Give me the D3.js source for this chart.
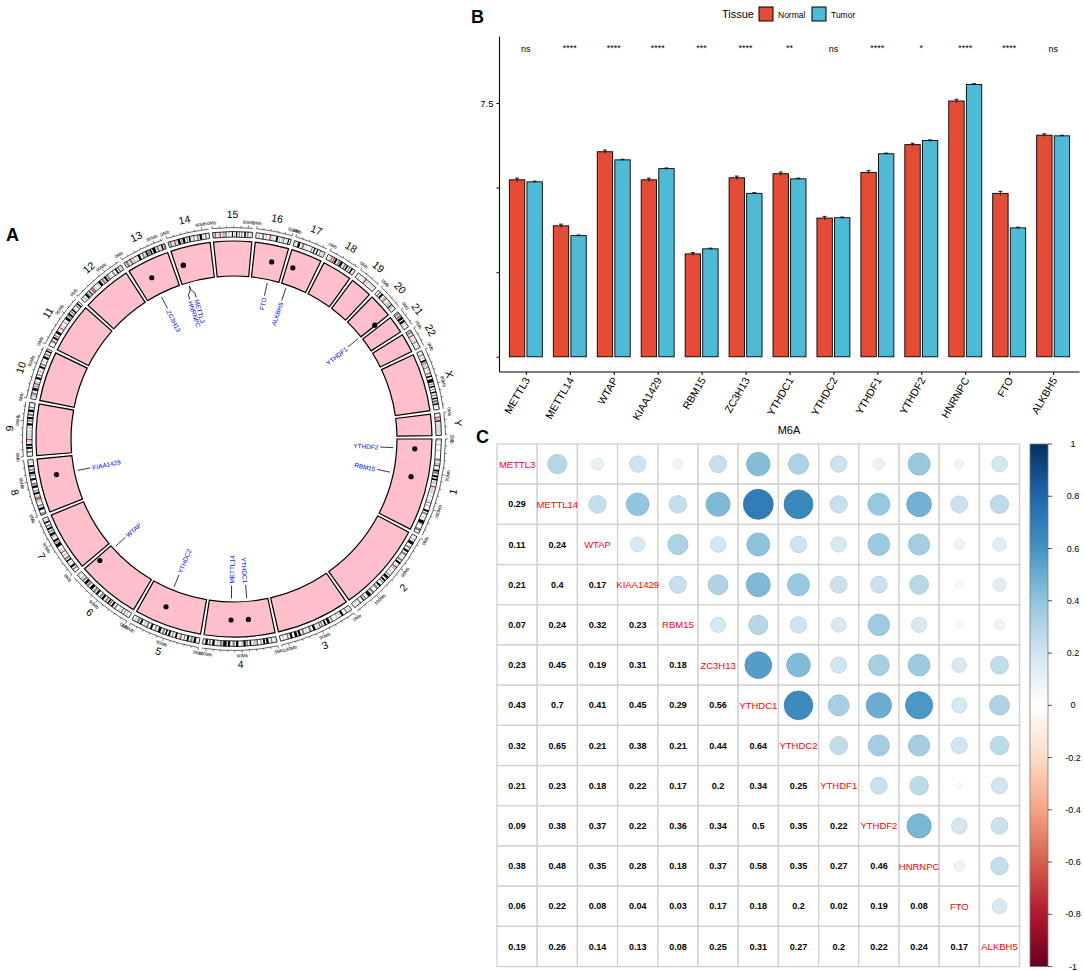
<!DOCTYPE html>
<html>
<head>
<meta charset="utf-8">
<title>m6A regulators</title>
<script src="https://cdn.jsdelivr.net/npm/d3@7"></script>
<style>
  body { margin: 0; background: #fff; }
  text { font-family: "Liberation Sans", Arial, sans-serif; }
</style>
</head>
<body>
<svg width="1084" height="971"></svg>
<script>
// ---------------- data ----------------
var genes = ["METTL3", "METTL14", "WTAP", "KIAA1429", "RBM15", "ZC3H13", "YTHDC1",
             "YTHDC2", "YTHDF1", "YTHDF2", "HNRNPC", "FTO", "ALKBH5"];

// panel B : mean expression per tissue
var normalExpr = [5.23, 3.87, 6.06, 5.23, 3.04, 5.29, 5.41, 4.10, 5.45, 6.27, 7.56, 4.83, 6.55];
var tumorExpr  = [5.17, 3.58, 5.82, 5.56, 3.19, 4.83, 5.26, 4.11, 6.00, 6.39, 8.05, 3.81, 6.53];
var normalSe   = [0.05, 0.05, 0.05, 0.05, 0.04, 0.05, 0.05, 0.05, 0.05, 0.04, 0.05, 0.06, 0.04];
var tumorSe    = [0.02, 0.02, 0.02, 0.02, 0.02, 0.02, 0.02, 0.02, 0.02, 0.02, 0.02, 0.02, 0.02];
var signif     = ["ns", "****", "****", "****", "***", "****", "**", "ns", "****", "*", "****", "****", "ns"];
var yTicks     = [0, 2.5, 5, 7.5];
var yTickLabels = ["", "", "", "7.5"];
var tissues    = ["Normal", "Tumor"];

// panel A : genome (hg38, Mb)
var chroms = ["1","2","3","4","5","6","7","8","9","10","11","12","13","14","15","16","17","18","19","20","21","22","X","Y"];
var chromLen = [248.96, 242.19, 198.30, 190.21, 181.54, 170.81, 159.35, 145.14, 138.39, 133.80, 135.09, 133.28,
                114.36, 107.04, 101.99, 90.34, 83.26, 80.37, 58.62, 64.44, 46.71, 50.82, 156.04, 57.23];
var centromere = [123.4, 93.9, 90.9, 50.0, 48.8, 59.8, 60.1, 45.2, 43.0, 39.8, 53.4, 35.5,
                  17.7, 17.2, 19.0, 36.8, 25.1, 18.5, 26.2, 28.1, 12.0, 15.0, 60.6, 10.4];
var axisMajorMb = 90, axisMinorMb = 18;
// [start, end, stain] stain: 1 gpos100, 2 gpos75, 3 gpos50, 4 gvar, 5 stalk
var cytoBands = [
  [[3,6,3],[13,16,3],[28,31,3],[50,56,2],[60,68,3],[68,70,1],[79,84,1],[85,90,2],[94,99,1],[102,107,1],[110,116,3],[125,143,4],[147,150,3],[160,163,3],[165,168,2],[172,176,3],[185,190,1],[193,198,2],[204,207,3],[214,223,1],[224,227,3],[236,243,2]],
  [[8,12,3],[16,24,1],[31,36,2],[41,47,1],[51,57,2],[61,64,3],[69,74,2],[78,83,1],[96,102,3],[110,113,3],[119,122,2],[125,132,1],[136,141,1],[143,147,2],[154,159,1],[163,169,2],[178,184,2],[188,197,1],[204,208,2],[211,214,1],[221,225,2],[229,232,3]],
  [[4,8,3],[12,16,2],[24,30,1],[33,36,3],[40,44,3],[55,59,2],[63,70,1],[74,79,1],[83,87,2],[96,99,3],[104,110,1],[115,121,2],[126,129,3],[134,139,2],[144,150,1],[153,160,1],[166,172,1],[176,180,2],[188,192,3]],
  [[2,5,3],[11,15,2],[21,27,1],[30,35,1],[39,42,2],[52,58,3],[59,62,3],[66,70,1],[74,78,2],[80,86,1],[88,92,3],[99,105,1],[108,114,2],[120,126,1],[129,138,1],[140,147,2],[150,155,3],[160,166,1],[170,175,2],[178,184,1]],
  [[9,15,1],[18,24,2],[28,33,1],[38,41,2],[51,54,3],[59,64,1],[69,72,2],[77,82,1],[86,90,1],[93,98,2],[103,110,1],[115,119,2],[126,131,1],[137,142,2],[145,150,3],[155,160,1],[163,169,2],[172,176,3]],
  [[7,11,3],[15,18,2],[22,26,2],[30,33,3],[41,45,2],[50,55,1],[63,67,1],[70,75,2],[80,86,1],[88,93,2],[99,105,1],[108,114,2],[118,126,1],[130,136,2],[138,145,1],[148,153,2],[155,160,3],[165,168,3]],
  [[7,11,2],[14,20,1],[25,28,3],[32,36,1],[39,44,2],[50,54,3],[66,69,3],[77,86,1],[88,91,2],[93,98,1],[104,108,3],[110,117,1],[120,124,2],[127,132,1],[135,140,2],[145,149,1],[152,155,3]],
  [[2,6,2],[13,19,1],[23,27,2],[33,36,3],[39,43,2],[47,52,3],[55,60,1],[63,66,2],[72,78,1],[80,85,2],[92,97,1],[103,106,2],[108,114,1],[117,122,2],[126,131,1],[136,139,3]],
  [[9,14,2],[19,24,1],[27,32,1],[36,39,3],[45,60,4],[61,68,4],[71,75,3],[79,85,1],[89,93,2],[95,101,1],[104,110,2],[114,120,1],[124,128,2],[134,136,3]],
  [[6,12,3],[12,17,2],[22,29,1],[32,35,2],[43,47,3],[52,58,1],[62,66,2],[70,75,3],[82,87,1],[90,94,2],[99,103,3],[108,114,1],[118,122,2],[126,130,1]],
  [[11,17,2],[21,26,1],[28,32,2],[36,43,1],[46,48,3],[59,62,3],[70,72,2],[79,86,1],[88,92,2],[93,98,1],[101,105,2],[107,111,1],[112,115,3],[121,125,2],[127,131,1]],
  [[5,10,3],[14,20,1],[21,24,2],[27,30,1],[38,43,2],[45,48,3],[55,57,3],[60,67,1],[70,76,2],[79,85,1],[87,92,2],[94,97,3],[104,108,2],[114,118,1],[121,125,2],[128,131,3]],
  [[0,4.5,4],[4.5,10,5],[10,16,4],[19,23,3],[25,27,2],[32,35,3],[39,45,1],[50,55,2],[57,60,3],[61,65,1],[66,72,2],[73,77,1],[80,88,1],[92,97,2],[99,102,3],[104,108,1],[110,113,2]],
  [[0,3.6,4],[3.6,8,5],[8,16,4],[20,23,3],[25,31,1],[33,36,2],[38,44,1],[48,51,2],[54,58,1],[61,63,3],[66,69,2],[75,79,2],[82,88,1],[91,93,3],[96,100,2]],
  [[0,4.2,4],[4.2,8.5,5],[8.5,17,4],[23,25,3],[27,30,2],[33,35,1],[40,43,3],[49,52,1],[55,58,3],[60,63,1],[67,70,2],[73,76,2],[81,85,1],[88,92,2],[96,99,3]],
  [[6,10,3],[16,21,2],[24,28,3],[38,47,4],[52,57,1],[60,63,3],[66,70,3],[71,74,2],[78,80,3],[83,86,1]],
  [[3,6,3],[10,16,1],[21,24,3],[31,34,3],[39,41,3],[47,50,2],[54,57,1],[62,65,1],[70,73,2],[76,79,3]],
  [[7,10,3],[11,15,2],[22,27,1],[31,36,2],[37,43,1],[48,53,2],[55,59,1],[63,66,2],[69,73,1],[76,78,3]],
  [[7,9,3],[13,14,3],[20,24,4],[28,31,4],[32,35,3],[38,39,3],[43,45,3],[48,51,3],[54,56,3]],
  [[5,9,2],[12,17,1],[21,25,3],[31,33,3],[37,41,3],[43,45,2],[48,51,1],[54,56,2],[60,62,3]],
  [[0,3,4],[3,7,5],[7,10.5,4],[13,16,3],[16,22,1],[25,31,1],[33,35,3],[38,40,3]],
  [[0,4,4],[4,8.5,5],[8.5,13,4],[22,24,3],[27,30,3],[32,35,2],[36,38,3],[44,46,3]],
  [[4,6,3],[9,12,2],[16,20,3],[24,29,1],[31,35,2],[37,42,3],[44,47,2],[50,53,3],[67,71,1],[76,85,1],[88,91,2],[94,98,1],[102,105,2],[109,113,1],[117,121,2],[125,129,1],[131,138,2],[140,144,1],[146,148,3]],
  [[2.8,5,3],[12,14,3],[15,17,2],[19,22,1],[24,26,3],[26.6,57.2,4]]
];
var geneChrom = ["14", "4", "6", "8", "1", "13", "4", "5", "20", "1", "14", "16", "17"];
var genePos   = [21.5, 118.7, 159.7, 94.5, 110.3, 45.9, 68.3, 113.5, 63.2, 28.7, 21.2, 53.7, 18.2];

// panel C : correlation (lower triangle, row by row)
var corLower = [
  [],
  [0.29],
  [0.11, 0.24],
  [0.21, 0.4, 0.17],
  [0.07, 0.24, 0.32, 0.23],
  [0.23, 0.45, 0.19, 0.31, 0.18],
  [0.43, 0.7, 0.41, 0.45, 0.29, 0.56],
  [0.32, 0.65, 0.21, 0.38, 0.21, 0.44, 0.64],
  [0.21, 0.23, 0.18, 0.22, 0.17, 0.2, 0.34, 0.25],
  [0.09, 0.38, 0.37, 0.22, 0.36, 0.34, 0.5, 0.35, 0.22],
  [0.38, 0.48, 0.35, 0.28, 0.18, 0.37, 0.58, 0.35, 0.27, 0.46],
  [0.06, 0.22, 0.08, 0.04, 0.03, 0.17, 0.18, 0.2, 0.02, 0.19, 0.08],
  [0.19, 0.26, 0.14, 0.13, 0.08, 0.25, 0.31, 0.27, 0.2, 0.22, 0.24, 0.17]
];
var colorbarTicks = [1, 0.8, 0.6, 0.4, 0.2, 0, -0.2, -0.4, -0.6, -0.8, -1];

// ---------------- drawing ----------------
var svg = d3.select("svg");

// panel letters
svg.append("text").attr("x", 6).attr("y", 241).text("A")
  .attr("font-size", 18).attr("font-weight", "bold");
svg.append("text").attr("x", 471).attr("y", 23).text("B")
  .attr("font-size", 18).attr("font-weight", "bold");
svg.append("text").attr("x", 476).attr("y", 443).text("C")
  .attr("font-size", 18).attr("font-weight", "bold");

// ===== Panel A : circos =====
var cx = 234, cy = 439, gapDeg = 1;
var degPerMb = (360 - gapDeg * chroms.length) / d3.sum(chromLen);
var chromStart = [], acc = 0;
chromLen.forEach(function(l) { chromStart.push(acc); acc += l * degPerMb + gapDeg; });
var angle = chroms.map(function(c, i) {
  return d3.scaleLinear().domain([0, chromLen[i]]).range([chromStart[i], chromStart[i] + chromLen[i] * degPerMb]);
});
function rad(deg) { return (deg + 90) * Math.PI / 180; }       // d3.arc angle
function pt(r, deg) { var a = deg * Math.PI / 180; return [r * Math.cos(a), r * Math.sin(a)]; }
function tangentRot(deg) {
  var d = ((deg % 360) + 360) % 360;
  return (d > 0 && d < 180) ? d - 90 : d + 90;
}
var arc = d3.arc();
function ring(r0, r1, a0, a1) {
  return arc({innerRadius: r0, outerRadius: r1, startAngle: rad(a0), endAngle: rad(a1)});
}
var stainCol = {1: "#000000", 2: "#828282", 3: "#C8C8C8", 4: "#DCDCDC", 5: "#647FA4"};

var gA = svg.append("g").attr("transform", "translate(" + cx + "," + cy + ")");

chroms.forEach(function(c, i) {
  var s = angle[i], L = chromLen[i];
  var g = gA.append("g").attr("class", "chr");

  // pink data track
  g.append("path").attr("d", ring(163, 198, s(0), s(L)))
    .attr("fill", "#FFC0CB").attr("stroke", "#000").attr("stroke-width", 1.2);

  // ideogram
  g.append("path").attr("d", ring(202, 207.5, s(0), s(L))).attr("fill", "#fff");
  g.selectAll(".band").data(cytoBands[i]).enter().append("path")
    .attr("d", function(b) { return ring(202, 207.5, s(b[0]), s(Math.min(b[1], L))); })
    .attr("fill", function(b) { return stainCol[b[2]]; });
  g.append("path").attr("d", ring(202, 207.5, s(centromere[i] - 1.6), s(centromere[i] + 1.6)))
    .attr("fill", "#D92F27");
  g.append("path").attr("d", ring(202, 207.5, s(0), s(L)))
    .attr("fill", "none").attr("stroke", "#000").attr("stroke-width", 0.8);

  // genomic axis
  var p = d3.path();
  p.arc(0, 0, 211.5, s(0) * Math.PI / 180, s(L) * Math.PI / 180);
  g.append("path").attr("d", p.toString()).attr("fill", "none")
    .attr("stroke", "#000").attr("stroke-width", 0.6);
  d3.range(0, L, axisMinorMb).forEach(function(v) {
    var major = v % axisMajorMb === 0;
    var a = pt(211.5, s(v)), b = pt(major ? 214.3 : 213.2, s(v));
    g.append("line").attr("x1", a[0]).attr("y1", a[1]).attr("x2", b[0]).attr("y2", b[1])
      .attr("stroke", "#000").attr("stroke-width", 0.5);
    if (major) {
      var q = pt(217, s(v));
      g.append("text").attr("transform", "translate(" + q[0] + "," + q[1] + ") rotate(" + tangentRot(s(v)) + ")")
        .attr("text-anchor", "middle").attr("dominant-baseline", "central")
        .attr("font-size", 4.6).text(v + "Mb");
    }
  });

  // chromosome name
  var m = s(L / 2), q = pt(225, m);
  g.append("text").attr("transform", "translate(" + q[0] + "," + q[1] + ") rotate(" + tangentRot(m) + ")")
    .attr("text-anchor", "middle").attr("dominant-baseline", "central")
    .attr("font-size", 10.5).text(c);
});

// gene points and labels
var labs = genes.map(function(g, i) {
  var ci = chroms.indexOf(geneChrom[i]);
  return {gene: g, theta: angle[ci](genePos[i])};
}).sort(function(a, b) { return a.theta - b.theta; });
labs.forEach(function(d) { d.phi = d.theta; });
var minSep = 2.6;
for (var it = 0; it < 20; it++) {
  for (var i = 0; i < labs.length - 1; i++) {
    if (labs[i + 1].phi - labs[i].phi < minSep) {
      var mid = (labs[i + 1].phi + labs[i].phi) / 2;
      labs[i].phi = mid - minSep / 2;
      labs[i + 1].phi = mid + minSep / 2;
    }
  }
}
gA.selectAll(".dot").data(labs).enter().append("circle")
  .attr("cx", function(d) { return pt(181, d.theta)[0]; })
  .attr("cy", function(d) { return pt(181, d.theta)[1]; })
  .attr("r", 2.6).attr("fill", "#000");
gA.selectAll(".conn").data(labs).enter().append("path")
  .attr("d", function(d) {
    return "M" + pt(159.5, d.theta) + "L" + pt(156, d.theta) + "L" + pt(151, d.phi) + "L" + pt(146.5, d.phi);
  })
  .attr("fill", "none").attr("stroke", "#000").attr("stroke-width", 0.8);
gA.selectAll(".glab").data(labs).enter().append("text")
  .attr("transform", function(d) {
    var q = pt(144.5, d.phi), right = Math.cos(d.phi * Math.PI / 180) >= 0;
    return "translate(" + q[0] + "," + q[1] + ") rotate(" + (right ? d.phi : d.phi + 180) + ")";
  })
  .attr("text-anchor", function(d) { return Math.cos(d.phi * Math.PI / 180) >= 0 ? "end" : "start"; })
  .attr("dominant-baseline", "central")
  .attr("font-size", 6.4).attr("fill", "#0000FF")
  .text(function(d) { return d.gene; });

// ===== Panel B : bar chart =====
var tissueCol = {Normal: "#E64B35", Tumor: "#4DBBD5"};
var bx = d3.scaleLinear().domain([0.4, genes.length + 0.6]).range([499.5, 1079.5]);
var by = d3.scaleLinear().domain([-0.45, 9.46]).range([372, 36.7]);
var gB = svg.append("g");
var barW = 0.35;

var series = [
  {name: "Normal", vals: normalExpr, se: normalSe, off: -0.2},
  {name: "Tumor", vals: tumorExpr, se: tumorSe, off: 0.2}
];
series.forEach(function(sr) {
  var g = gB.append("g");
  g.selectAll("rect").data(sr.vals).enter().append("rect")
    .attr("x", function(v, i) { return bx(i + 1 + sr.off - barW / 2); })
    .attr("width", bx(barW) - bx(0))
    .attr("y", function(v) { return by(v); })
    .attr("height", function(v) { return by(0) - by(v); })
    .attr("fill", tissueCol[sr.name]).attr("stroke", "#000").attr("stroke-width", 0.9);
  g.selectAll(".err").data(sr.vals).enter().append("path")
    .attr("d", function(v, i) {
      var x = bx(i + 1 + sr.off), w = 2;
      var y1 = by(v + sr.se[i]), y0 = by(v - sr.se[i]);
      return "M" + x + "," + y0 + "V" + y1 + "M" + (x - w) + "," + y1 + "H" + (x + w);
    })
    .attr("stroke", "#000").attr("stroke-width", 0.9).attr("fill", "none");
});

gB.selectAll(".sig").data(signif).enter().append("text")
  .attr("x", function(d, i) { return bx(i + 1); })
  .attr("y", function(d) { return d === "ns" ? 52 : 51; })
  .attr("text-anchor", "middle").attr("font-size", 9).text(function(d) { return d; });

var yAxis = d3.axisLeft(by).tickValues(yTicks).tickSize(3)
  .tickFormat(function(d, i) { return yTickLabels[i]; });
gB.append("g").attr("transform", "translate(499.5,0)").call(yAxis)
  .call(function(g) {
    g.select(".domain").attr("d", "M0," + by.range()[1] + "V" + by.range()[0]).attr("stroke-width", 1.1);
    g.selectAll("text").attr("font-size", 9.5).attr("fill", "#000");
  });
gB.append("line").attr("x1", 499.5).attr("x2", 1079.5).attr("y1", 372).attr("y2", 372)
  .attr("stroke", "#000").attr("stroke-width", 1.1);
var xAxis = d3.axisBottom(bx).tickValues(d3.range(1, genes.length + 1)).tickSize(3)
  .tickFormat(function(d) { return genes[d - 1]; });
gB.append("g").attr("transform", "translate(0,372)").call(xAxis)
  .call(function(g) {
    g.select(".domain").remove();
    g.selectAll("text").attr("font-size", 10.5).attr("fill", "#000")
      .attr("text-anchor", "end").attr("dy", null).attr("y", null)
      .attr("transform", "translate(4,8) rotate(-60)");
  });
gB.append("text").attr("x", 789).attr("y", 434).attr("text-anchor", "middle")
  .attr("font-size", 11).text("M6A");

// legend
var lg = gB.append("g");
lg.append("text").attr("x", 722).attr("y", 18).attr("font-size", 11).text("Tissue");
var legX = [759, 812];
tissues.forEach(function(t, i) {
  lg.append("rect").attr("x", legX[i]).attr("y", 7).attr("width", 14).attr("height", 14)
    .attr("fill", tissueCol[t]).attr("stroke", "#000").attr("stroke-width", 1);
  lg.append("text").attr("x", legX[i] + 19).attr("y", 17.5).attr("font-size", 8.5).text(t);
});

// ===== Panel C : correlation matrix =====
var corColors = ["#67001F", "#B2182B", "#D6604D", "#F4A582", "#FDDBC7", "#FFFFFF",
                 "#D1E5F0", "#92C5DE", "#4393C3", "#2166AC", "#053061"];
var corScale = d3.scaleLinear().domain(d3.range(11).map(function(i) { return -1 + i * 0.2; })).range(corColors);
var n = genes.length, cell = 40.2, gx0 = 497, gy0 = 444;
var cxs = d3.scaleBand().domain(genes).range([gx0, gx0 + n * cell]);
var cys = d3.scaleBand().domain(genes).range([gy0, gy0 + n * cell]);
function cor(i, j) { return i > j ? corLower[i][j] : corLower[j][i]; }
var cells = [];
genes.forEach(function(r, i) { genes.forEach(function(c, j) { cells.push({i: i, j: j}); }); });

var gC = svg.append("g");
gC.selectAll(".cell").data(cells).enter().append("rect")
  .attr("x", function(d) { return cxs(genes[d.j]); })
  .attr("y", function(d) { return cys(genes[d.i]); })
  .attr("width", cxs.bandwidth()).attr("height", cys.bandwidth())
  .attr("fill", "#fff").attr("stroke", "#D0D0D0").attr("stroke-width", 1.3);

gC.selectAll(".circ").data(cells.filter(function(d) { return d.j > d.i; })).enter().append("circle")
  .attr("cx", function(d) { return cxs(genes[d.j]) + cell / 2; })
  .attr("cy", function(d) { return cys(genes[d.i]) + cell / 2; })
  .attr("r", function(d) { return Math.sqrt(Math.abs(cor(d.i, d.j))) * 0.445 * cell; })
  .attr("fill", function(d) { return corScale(cor(d.i, d.j)); })
  .attr("stroke", function(d) { return d3.color(corScale(cor(d.i, d.j))).darker(0.25); })
  .attr("stroke-width", 0.8);

gC.selectAll(".num").data(cells.filter(function(d) { return d.j < d.i; })).enter().append("text")
  .attr("x", function(d) { return cxs(genes[d.j]) + cell / 2; })
  .attr("y", function(d) { return cys(genes[d.i]) + cell / 2; })
  .attr("text-anchor", "middle").attr("dominant-baseline", "central")
  .attr("font-size", 9).attr("font-weight", "bold")
  .text(function(d) { return String(cor(d.i, d.j)); });

gC.selectAll(".diag").data(genes).enter().append("text")
  .attr("x", function(g) { return cxs(g) + cell / 2; })
  .attr("y", function(g) { return cys(g) + cell / 2; })
  .attr("text-anchor", "middle").attr("dominant-baseline", "central")
  .attr("font-size", 9.5).attr("fill", "#FF0000").text(function(g) { return g; });

// colour bar
var defs = svg.append("defs");
var grad = defs.append("linearGradient").attr("id", "corGrad")
  .attr("x1", 0).attr("y1", 1).attr("x2", 0).attr("y2", 0);
corColors.forEach(function(c, i) {
  grad.append("stop").attr("offset", (i / (corColors.length - 1) * 100) + "%").attr("stop-color", c);
});
var cbY = d3.scaleLinear().domain([-1, 1]).range([gy0 + n * cell, gy0]);
gC.append("rect").attr("x", 1030).attr("y", cbY(1)).attr("width", 18).attr("height", cbY(-1) - cbY(1))
  .attr("fill", "url(#corGrad)").attr("stroke", "#777").attr("stroke-width", 0.8);
gC.selectAll(".cbt").data(colorbarTicks).enter().append("line")
  .attr("x1", 1048).attr("x2", 1052)
  .attr("y1", function(t) { return cbY(t); }).attr("y2", function(t) { return cbY(t); })
  .attr("stroke", "#000").attr("stroke-width", 0.7);
gC.selectAll(".cbl").data(colorbarTicks).enter().append("text")
  .attr("x", 1073).attr("y", function(t) { return cbY(t); })
  .attr("text-anchor", "middle").attr("dominant-baseline", "central")
  .attr("font-size", 9).text(function(t) { return String(t); });
</script>
</body>
</html>
